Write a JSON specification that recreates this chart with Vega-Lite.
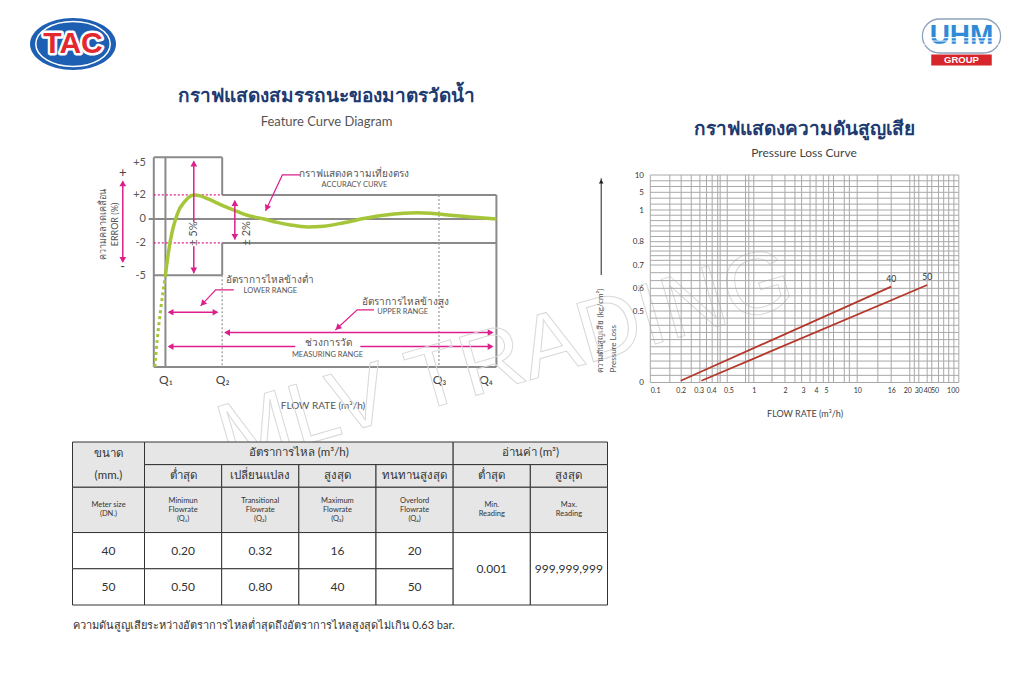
{
  "$schema": "https://vega.github.io/schema/vega-lite/v6.json",
  "background": "white",
  "padding": {"left": 29.5, "top": 0, "right": 4, "bottom": 4},
  "config": {
    "view": {"stroke": null},
    "font": "Lato",
    "axis": {"labelFont": "Lato", "titleFont": "Lato"},
    "title": {"font": "Lato", "subtitleFont": "Lato"}
  },
  "columns": 2,
  "align": "each",
  "bounds": "flush",
  "spacing": {"row": 69, "column": 41},
  "datasets": {
    "frame": [
      {"x": 0, "y": 5.55, "x2": 20, "y2": 5.55},
      {"x": 0, "y": 5.55, "x2": 0, "y2": -16},
      {"x": 20, "y": 5.55, "x2": 20, "y2": 2},
      {"x": 20, "y": 2, "x2": 100.2, "y2": 2},
      {"x": 100.2, "y": 2, "x2": 100.2, "y2": -16},
      {"x": 0, "y": -16, "x2": 100.2, "y2": -16},
      {"x": 0, "y": -5, "x2": 20, "y2": -5},
      {"x": 20, "y": -5, "x2": 20, "y2": -2},
      {"x": 20, "y": -2, "x2": 100.2, "y2": -2},
      {"x": -1.5, "y": 0, "x2": 100.2, "y2": 0},
      {"x": 3.4, "y": 5.55, "x2": 3.4, "y2": -16}
    ],
    "guides": [
      {"x": 20, "y": -5, "x2": 20, "y2": -16},
      {"x": 83.4, "y": 2, "x2": 83.4, "y2": -16}
    ],
    "limits": [
      {"x": 0, "y": 2, "x2": 20, "y2": 2},
      {"x": 0, "y": -2, "x2": 20, "y2": -2}
    ],
    "accuracy": [
      {"x": 3.4, "y": -5.0}, {"x": 4.4, "y": -2.6}, {"x": 5.4, "y": -1.0}, {"x": 6.4, "y": 0.0},
      {"x": 7.5, "y": 0.8}, {"x": 8.8, "y": 1.35}, {"x": 10.2, "y": 1.8}, {"x": 11.8, "y": 2.0},
      {"x": 13.6, "y": 1.92}, {"x": 15.5, "y": 1.7}, {"x": 17.5, "y": 1.45}, {"x": 20.5, "y": 1.05},
      {"x": 23.4, "y": 0.72}, {"x": 27.3, "y": 0.3}, {"x": 32.2, "y": 0.0}, {"x": 36.1, "y": -0.27},
      {"x": 40.0, "y": -0.48}, {"x": 44.9, "y": -0.64}, {"x": 49.7, "y": -0.58}, {"x": 55.6, "y": -0.3},
      {"x": 61.4, "y": 0.03}, {"x": 67.3, "y": 0.3}, {"x": 73.1, "y": 0.46}, {"x": 77.0, "y": 0.5},
      {"x": 80.9, "y": 0.46}, {"x": 86.8, "y": 0.3}, {"x": 93.6, "y": 0.13}, {"x": 100.2, "y": 0.0}
    ],
    "extension": [
      {"x": 0.3, "y": -16}, {"x": 1.0, "y": -12.3}, {"x": 2.0, "y": -8.7}, {"x": 3.4, "y": -5.0}
    ],
    "shafts": [
      {"x": 11.7, "y": 5.1, "x2": 11.7, "y2": -0.25},
      {"x": 11.7, "y": -2.3, "x2": 11.7, "y2": -4.8},
      {"x": 23.7, "y": 1.5, "x2": 23.7, "y2": -1.7},
      {"x": -9.07, "y": 3.2, "x2": -9.07, "y2": -3.7},
      {"x": 4.5, "y": -8.97, "x2": 18.5, "y2": -8.97},
      {"x": 21, "y": -11.41, "x2": 99, "y2": -11.41},
      {"x": 4.5, "y": -13.2, "x2": 41.4, "y2": -13.2},
      {"x": 60.4, "y": -13.2, "x2": 99, "y2": -13.2}
    ],
    "heads": [
      {"x": 11.7, "y": 4.93, "heading": 0}, {"x": 11.7, "y": -4.54, "heading": 180},
      {"x": 23.7, "y": 1.31, "heading": 0}, {"x": 23.7, "y": -1.48, "heading": 180},
      {"x": -9.07, "y": 3.03, "heading": 0}, {"x": -9.07, "y": -3.52, "heading": 180},
      {"x": 4.9, "y": -8.97, "heading": 270}, {"x": 18.05, "y": -8.97, "heading": 90},
      {"x": 21.44, "y": -11.41, "heading": 270}, {"x": 98.5, "y": -11.41, "heading": 90},
      {"x": 4.9, "y": -13.2, "heading": 270}, {"x": 98.5, "y": -13.2, "heading": 90},
      {"x": 14.3, "y": -8.0, "heading": 223}, {"x": 53.8, "y": -10.8, "heading": 227},
      {"x": 33.05, "y": 0.89, "heading": 205}
    ],
    "pointers": [
      {"id": "lo", "seq": 0, "x": 23.4, "y": -6.51}, {"id": "lo", "seq": 1, "x": 18.1, "y": -6.51}, {"id": "lo", "seq": 2, "x": 13.7, "y": -8.25},
      {"id": "up", "seq": 0, "x": 64.4, "y": -8.7}, {"id": "up", "seq": 1, "x": 59.5, "y": -8.7}, {"id": "up", "seq": 2, "x": 53.1, "y": -11.08},
      {"id": "ac", "seq": 0, "x": 42.9, "y": 3.82}, {"id": "ac", "seq": 1, "x": 37.6, "y": 3.82}, {"id": "ac", "seq": 2, "x": 32.7, "y": 0.67}
    ],
    "labels": [
      {"x": 58.5, "y": 3.91, "k": "th", "text": "กราฟแสดงความเที่ยงตรง"},
      {"x": 58.7, "y": 2.89, "k": "en", "text": "ACCURACY CURVE"},
      {"x": 34.1, "y": -5.48, "k": "th", "text": "อัตราการไหลข้างต่ำ"},
      {"x": 34.1, "y": -6.59, "k": "en", "text": "LOWER RANGE"},
      {"x": 73.6, "y": -7.77, "k": "th", "text": "อัตราการไหลข้างสูง"},
      {"x": 72.8, "y": -8.9, "k": "en", "text": "UPPER RANGE"},
      {"x": 51.1, "y": -12.77, "k": "th", "text": "ช่วงการวัด"},
      {"x": 50.8, "y": -14.3, "k": "en", "text": "MEASURING RANGE"}
    ],
    "signs": [
      {"x": -9.07, "y": 3.98, "text": "+"},
      {"x": -9.07, "y": -4.17, "text": "-"}
    ],
    "pct": [
      {"x": 11.7, "y": -1.2, "text": "± 5%"},
      {"x": 27.3, "y": -1.17, "text": "± 2%"}
    ],
    "watermark": [{"x": 102.9, "y": -15.0, "text": "MLV TRADING"}],
    "vgrid": [
      {"flow": 0.1}, {"flow": 0.156}, {"flow": 0.202}, {"flow": 0.254}, {"flow": 0.309}, {"flow": 0.359},
      {"flow": 0.405}, {"flow": 0.435}, {"flow": 0.449}, {"flow": 0.492}, {"flow": 0.797}, {"flow": 0.872},
      {"flow": 1}, {"flow": 1.5}, {"flow": 2}, {"flow": 2.5}, {"flow": 2.9}, {"flow": 3.5},
      {"flow": 4}, {"flow": 4.7}, {"flow": 5.3}, {"flow": 5.9}, {"flow": 7.5}, {"flow": 8.4},
      {"flow": 10}, {"flow": 13.3}, {"flow": 16}, {"flow": 22}, {"flow": 26}, {"flow": 30.6},
      {"flow": 40}, {"flow": 46}, {"flow": 56}, {"flow": 65}, {"flow": 75}, {"flow": 87}, {"flow": 100}
    ],
    "hgrid": [
      {"loss": 10}, {"loss": 8.33}, {"loss": 6.67}, {"loss": 5}, {"loss": 3.67}, {"loss": 2.33},
      {"loss": 1}, {"loss": 0.967}, {"loss": 0.933}, {"loss": 0.9}, {"loss": 0.867}, {"loss": 0.833},
      {"loss": 0.8}, {"loss": 0.78}, {"loss": 0.76}, {"loss": 0.74}, {"loss": 0.72}, {"loss": 0.7},
      {"loss": 0.667}, {"loss": 0.633}, {"loss": 0.6}, {"loss": 0.567}, {"loss": 0.533}, {"loss": 0.5},
      {"loss": 0.45}, {"loss": 0.4}, {"loss": 0.35}, {"loss": 0.3}, {"loss": 0.25}, {"loss": 0.2},
      {"loss": 0.15}, {"loss": 0.1}, {"loss": 0.05}, {"loss": 0}
    ],
    "loss": [
      {"dn": "40", "flow": 0.2, "loss": 0.012},
      {"dn": "40", "flow": 16, "loss": 0.607},
      {"dn": "50", "flow": 0.32, "loss": 0.012},
      {"dn": "50", "flow": 40, "loss": 0.614}
    ],
    "lossArrow": [{"flow": 0.0327, "loss": 0.657, "loss2": 9.05, "head": 8.1}],
    "cells": [
      {"c0": 0, "c1": 1, "r0": 0, "r1": 2, "k": "head", "t": "ขนาด\n(mm.)"},
      {"c0": 1, "c1": 5, "r0": 0, "r1": 1, "k": "head", "t": "อัตราการไหล  (m³/h)"},
      {"c0": 5, "c1": 7, "r0": 0, "r1": 1, "k": "head", "t": "อ่านค่า  (m³)"},
      {"c0": 1, "c1": 2, "r0": 1, "r1": 2, "k": "head", "t": "ต่ำสุด"},
      {"c0": 2, "c1": 3, "r0": 1, "r1": 2, "k": "head", "t": "เปลี่ยนแปลง"},
      {"c0": 3, "c1": 4, "r0": 1, "r1": 2, "k": "head", "t": "สูงสุด"},
      {"c0": 4, "c1": 5, "r0": 1, "r1": 2, "k": "head", "t": "ทนทานสูงสุด"},
      {"c0": 5, "c1": 6, "r0": 1, "r1": 2, "k": "head", "t": "ต่ำสุด"},
      {"c0": 6, "c1": 7, "r0": 1, "r1": 2, "k": "head", "t": "สูงสุด"},
      {"c0": 0, "c1": 1, "r0": 2, "r1": 4, "k": "sub", "t": "Meter size\n(DN.)"},
      {"c0": 1, "c1": 2, "r0": 2, "r1": 4, "k": "sub", "t": "Minimun\nFlowrate\n(Q₁)"},
      {"c0": 2, "c1": 3, "r0": 2, "r1": 4, "k": "sub", "t": "Transitional\nFlowrate\n(Q₂)"},
      {"c0": 3, "c1": 4, "r0": 2, "r1": 4, "k": "sub", "t": "Maximum\nFlowrate\n(Q₃)"},
      {"c0": 4, "c1": 5, "r0": 2, "r1": 4, "k": "sub", "t": "Overlord\nFlowrate\n(Q₄)"},
      {"c0": 5, "c1": 6, "r0": 2, "r1": 4, "k": "sub", "t": "Min.\nReading"},
      {"c0": 6, "c1": 7, "r0": 2, "r1": 4, "k": "sub", "t": "Max.\nReading"},
      {"c0": 0, "c1": 1, "r0": 4, "r1": 5.6, "k": "body", "t": "40"},
      {"c0": 1, "c1": 2, "r0": 4, "r1": 5.6, "k": "body", "t": "0.20"},
      {"c0": 2, "c1": 3, "r0": 4, "r1": 5.6, "k": "body", "t": "0.32"},
      {"c0": 3, "c1": 4, "r0": 4, "r1": 5.6, "k": "body", "t": "16"},
      {"c0": 4, "c1": 5, "r0": 4, "r1": 5.6, "k": "body", "t": "20"},
      {"c0": 0, "c1": 1, "r0": 5.6, "r1": 7.2, "k": "body", "t": "50"},
      {"c0": 1, "c1": 2, "r0": 5.6, "r1": 7.2, "k": "body", "t": "0.50"},
      {"c0": 2, "c1": 3, "r0": 5.6, "r1": 7.2, "k": "body", "t": "0.80"},
      {"c0": 3, "c1": 4, "r0": 5.6, "r1": 7.2, "k": "body", "t": "40"},
      {"c0": 4, "c1": 5, "r0": 5.6, "r1": 7.2, "k": "body", "t": "50"},
      {"c0": 5, "c1": 6, "r0": 4, "r1": 7.2, "k": "body", "t": "0.001"},
      {"c0": 6, "c1": 7, "r0": 4, "r1": 7.2, "k": "body", "t": "999,999,999"}
    ]
  },
  "concat": [
    {
      "width": 1,
      "height": 88,
      "data": {"values": [{"logo": "TAC"}]},
      "layer": [
        {"mark": {"type": "point", "shape": "M-1.654,0A1.654,1,0,1,1,1.654,0A1.654,1,0,1,1,-1.654,0Z", "size": 2704, "filled": true, "color": "#1d5fb3", "opacity": 1}},
        {"mark": {"type": "point", "shape": "M-1.654,0A1.654,1,0,1,1,1.654,0A1.654,1,0,1,1,-1.654,0Z", "size": 2025, "filled": false, "color": "white", "strokeWidth": 1.5, "opacity": 1}},
        {"mark": {"type": "text", "font": "Liberation Sans", "fontSize": 30, "fontWeight": "bold", "color": "white", "stroke": "white", "strokeWidth": 5, "strokeJoin": "round"}, "encoding": {"text": {"field": "logo"}}},
        {"mark": {"type": "text", "font": "Liberation Sans", "fontSize": 30, "fontWeight": "bold", "color": "#e4282f"}, "encoding": {"text": {"field": "logo"}}}
      ]
    },
    {
      "width": 313,
      "height": 88,
      "data": {"values": [{"logo": "UHM", "tag": "GROUP"}]},
      "encoding": {"x": {"field": "logo", "type": "nominal", "scale": {"type": "point", "align": 1}, "axis": null}},
      "layer": [
        {"mark": {"type": "point", "shape": "M-1.3,-1H1.3A1,1,0,0,1,1.3,1H-1.3A1,1,0,0,1,-1.3,-1Z", "size": 1156, "filled": true, "fill": "white", "stroke": "#8ea2bb", "strokeWidth": 1.3, "yOffset": -8, "opacity": 1}},
        {"mark": {"type": "text", "font": "Liberation Sans", "fontSize": 28, "fontWeight": "bold", "color": "#2f8bd8", "dy": -8}, "encoding": {"text": {"field": "logo"}}},
        {"mark": {"type": "point", "shape": "M-3.4,0.15H3.4M-3.4,0.45H3.4M-3.4,0.75H3.4", "size": 484, "filled": false, "color": "white", "strokeWidth": 1.1, "yOffset": -8, "opacity": 0.9}},
        {"mark": {"type": "point", "shape": "M-5.5,-1H5.5V1H-5.5Z", "size": 121, "filled": true, "color": "#d6262b", "yOffset": 16, "opacity": 1}},
        {"mark": {"type": "text", "font": "Liberation Sans", "fontSize": 9.5, "fontWeight": "bold", "color": "white", "dy": 16}, "encoding": {"text": {"field": "tag"}}}
      ]
    },
    {
      "width": 424,
      "height": 215.5,
      "title": {"text": "กราฟแสดงสมรรถนะของมาตรวัดน้ำ", "subtitle": "Feature Curve Diagram", "frame": "group", "anchor": "middle", "dx": 42, "offset": 27, "fontSize": 19, "fontWeight": "bold", "color": "#1c3a70", "subtitleFontSize": 13, "subtitleColor": "#555555", "subtitlePadding": 10},
      "encoding": {
        "x": {
          "field": "x", "type": "quantitative",
          "scale": {"domain": [-23.78, 100.23], "nice": false, "zero": false},
          "axis": {"values": [3.4, 20, 83.4, 97], "labelExpr": "datum.value < 10 ? 'Q₁' : datum.value < 50 ? 'Q₂' : datum.value < 90 ? 'Q₃' : 'Q₄'", "domain": false, "ticks": false, "grid": false, "labelPadding": 2, "labelFontSize": 12, "labelColor": "#444444", "labelOverlap": false, "labelFlush": false, "title": "FLOW RATE (m³/h)", "titleX": 250, "titleY": 32.5, "titleAlign": "center", "titleBaseline": "middle", "titleFontSize": 10, "titleFontWeight": "normal", "titleColor": "#555555"}
        },
        "y": {
          "field": "y", "type": "quantitative",
          "scale": {"type": "symlog", "constant": 20, "domain": [-16.8, 5.58], "nice": false, "zero": false},
          "axis": {"values": [5, 2, 0, -2, -5], "labelExpr": "datum.value > 0 ? '+' + datum.value : '' + datum.value", "offset": -78, "domain": false, "ticks": false, "grid": false, "labelPadding": 5, "labelFontSize": 11, "labelColor": "#555555", "labelOverlap": false, "title": ["ความคลาดเคลื่อน", "ERROR (%)"], "titleAngle": -90, "titleX": -52, "titleY": 67, "titleAlign": "center", "titleBaseline": "top", "titleFontSize": 9, "titleFontWeight": "normal", "titleColor": "#555555", "titleLineHeight": 12}
        }
      },
      "layer": [
        {"data": {"name": "frame"}, "mark": {"type": "rule", "color": "#8a8a8a", "strokeWidth": 2}, "encoding": {"x2": {"field": "x2"}, "y2": {"field": "y2"}}},
        {"data": {"name": "guides"}, "mark": {"type": "rule", "color": "#999999", "strokeWidth": 1.2, "strokeDash": [2, 2]}, "encoding": {"x2": {"field": "x2"}, "y2": {"field": "y2"}}},
        {"data": {"name": "limits"}, "mark": {"type": "rule", "color": "#dd1f8b", "strokeWidth": 1.2, "strokeDash": [2, 2]}, "encoding": {"x2": {"field": "x2"}, "y2": {"field": "y2"}}},
        {"data": {"name": "extension"}, "mark": {"type": "line", "color": "#a6c63a", "strokeWidth": 3, "strokeDash": [3, 3], "interpolate": "monotone"}, "encoding": {}},
        {"data": {"name": "accuracy"}, "mark": {"type": "line", "color": "#a6c63a", "strokeWidth": 3.5, "interpolate": "monotone"}, "encoding": {}},
        {"data": {"name": "shafts"}, "mark": {"type": "rule", "color": "#dd1f8b", "strokeWidth": 1.5}, "encoding": {"x2": {"field": "x2"}, "y2": {"field": "y2"}}},
        {"data": {"name": "pointers"}, "mark": {"type": "line", "color": "#dd1f8b", "strokeWidth": 1.2}, "encoding": {"detail": {"field": "id"}, "order": {"field": "seq"}}},
        {"data": {"name": "heads"}, "mark": {"type": "point", "shape": "triangle-up", "filled": true, "color": "#dd1f8b", "size": 45, "opacity": 1}, "encoding": {"angle": {"field": "heading", "type": "quantitative", "scale": {"domain": [0, 360], "range": [0, 360]}}}},
        {"data": {"name": "labels"}, "transform": [{"filter": "datum.k == 'th'"}], "mark": {"type": "text", "fontSize": 10, "color": "#555555"}, "encoding": {"text": {"field": "text"}}},
        {"data": {"name": "labels"}, "transform": [{"filter": "datum.k == 'en'"}], "mark": {"type": "text", "fontSize": 7.5, "color": "#555555"}, "encoding": {"text": {"field": "text"}}},
        {"data": {"name": "signs"}, "mark": {"type": "text", "fontSize": 13, "color": "#444444"}, "encoding": {"text": {"field": "text"}}},
        {"data": {"name": "pct"}, "mark": {"type": "text", "fontSize": 11, "angle": 270, "color": "#555555"}, "encoding": {"text": {"field": "text"}}},
        {"data": {"name": "watermark"}, "mark": {"type": "text", "font": "Liberation Sans", "fontSize": 88, "angle": 344, "fillOpacity": 0, "stroke": "#d9d9d9", "strokeWidth": 1}, "encoding": {"text": {"field": "text"}}}
      ]
    },
    {
      "width": 311,
      "height": 215.5,
      "title": {"text": "กราฟแสดงความดันสูญเสีย", "subtitle": "Pressure Loss Curve", "frame": "group", "anchor": "middle", "offset": -2, "fontSize": 19, "fontWeight": "bold", "color": "#1c3a70", "subtitleFontSize": 12, "subtitleColor": "#444444", "subtitlePadding": 9},
      "encoding": {
        "x": {
          "field": "flow", "type": "quantitative",
          "scale": {"type": "log", "domain": [0.1, 0.4, 0.5, 1, 10, 16, 20, 30, 40, 50, 100], "range": [1.8, 62.7, 80, 105.3, 208.7, 242.7, 258.7, 269.7, 278.7, 286, 310.3], "nice": false, "zero": false},
          "axis": {"values": [0.1, 0.2, 0.3, 0.4, 0.5, 1, 2, 3, 4, 5, 10, 16, 20, 30, 40, 50, 100], "format": "~r", "offset": 10.5, "domain": false, "ticks": false, "grid": false, "labelFontSize": 7, "labelColor": "#333333", "labelPadding": 3, "labelOverlap": false, "title": "FLOW RATE (m³/h)", "titleFontSize": 9, "titleFontWeight": "normal", "titleColor": "#444444", "titlePadding": 16}
        },
        "y": {
          "field": "loss", "type": "quantitative",
          "scale": {"domain": [0, 0.5, 0.6, 0.7, 0.8, 1, 5, 10], "range": [225.5, 154, 131.3, 108, 84.7, 53, 35.3, 18], "nice": false, "zero": false},
          "axis": {"values": [0, 0.5, 0.6, 0.7, 0.8, 1, 5, 10], "format": "~r", "domain": false, "ticks": false, "grid": false, "labelFontSize": 8, "labelColor": "#333333", "labelPadding": 5, "labelOverlap": false, "title": ["ความดันสูญเสีย (kg/cm²)", "Pressure Loss"], "titleAngle": -90, "titleAlign": "left", "titleBaseline": "top", "titleX": -52.3, "titleY": 215, "titleFontSize": 8, "titleFontWeight": "normal", "titleColor": "#555555", "titleLineHeight": 13.6}
        }
      },
      "layer": [
        {"data": {"name": "vgrid"}, "transform": [{"calculate": "0", "as": "lo"}, {"calculate": "10", "as": "hi"}], "mark": {"type": "rule", "color": "#a8a8a8", "strokeWidth": 1}, "encoding": {"y": {"field": "lo", "type": "quantitative"}, "y2": {"field": "hi"}}},
        {"data": {"name": "hgrid"}, "transform": [{"calculate": "0.1", "as": "lo"}, {"calculate": "100", "as": "hi"}], "mark": {"type": "rule", "color": "#a8a8a8", "strokeWidth": 1}, "encoding": {"x": {"field": "lo", "type": "quantitative"}, "x2": {"field": "hi"}}},
        {"data": {"name": "loss"}, "mark": {"type": "line", "color": "#b5372a", "strokeWidth": 1.8}, "encoding": {"detail": {"field": "dn"}}},
        {"data": {"name": "loss"}, "transform": [{"filter": "datum.loss > 0.3"}], "mark": {"type": "text", "dy": -8, "fontSize": 8.5, "color": "#333333"}, "encoding": {"text": {"field": "dn"}}},
        {"data": {"name": "lossArrow"}, "mark": {"type": "rule", "color": "#222222", "strokeWidth": 1}, "encoding": {"y2": {"field": "loss2"}}},
        {"data": {"name": "lossArrow"}, "mark": {"type": "point", "shape": "triangle-up", "filled": true, "color": "#222222", "size": 22, "opacity": 1}, "encoding": {"y": {"field": "head", "type": "quantitative"}}}
      ]
    },
    {
      "width": 535,
      "height": 163,
      "title": {"text": "ความดันสูญเสียระหว่างอัตราการไหลต่ำสุดถึงอัตราการไหลสูงสุดไม่เกิน 0.63 bar.", "orient": "bottom", "anchor": "start", "frame": "group", "offset": 14, "fontSize": 11, "fontWeight": "normal", "color": "#333333"},
      "data": {"name": "cells"},
      "transform": [
        {"calculate": "(datum.c0 + datum.c1) / 2", "as": "cx"},
        {"calculate": "(datum.r0 + datum.r1) / 2", "as": "cy"},
        {"calculate": "length(split(datum.t, '\\n'))", "as": "nl"}
      ],
      "encoding": {
        "x": {"field": "cx", "type": "quantitative", "scale": {"domain": [0, 1, 7], "range": [0, 72, 535], "nice": false, "zero": false}, "axis": null},
        "y": {"field": "cy", "type": "quantitative", "scale": {"domain": [0, 7.2], "reverse": true, "nice": false, "zero": false}, "axis": null},
        "text": {"field": "t"}
      },
      "layer": [
        {
          "mark": {"type": "rect", "stroke": "#333333", "strokeWidth": 1},
          "encoding": {
            "x": {"field": "c0", "type": "quantitative", "scale": {"domain": [0, 1, 7], "range": [0, 72, 535], "nice": false, "zero": false}, "axis": null},
            "x2": {"field": "c1"},
            "y": {"field": "r0", "type": "quantitative", "scale": {"domain": [0, 7.2], "reverse": true, "nice": false, "zero": false}, "axis": null},
            "y2": {"field": "r1"},
            "text": null,
            "fill": {"field": "k", "type": "nominal", "scale": {"domain": ["head", "sub", "body"], "range": ["#e6e6e6", "#e6e6e6", "#ffffff"]}, "legend": null}
          }
        },
        {"transform": [{"filter": "datum.k == 'head' && datum.nl == 1"}], "mark": {"type": "text", "fontSize": 11.5, "color": "#333333"}},
        {"transform": [{"filter": "datum.k == 'head' && datum.nl == 2"}], "mark": {"type": "text", "fontSize": 11.5, "color": "#333333", "lineBreak": "\n", "lineHeight": 22, "dy": -11}},
        {"transform": [{"filter": "datum.k == 'sub' && datum.nl == 2"}], "mark": {"type": "text", "fontSize": 7.5, "color": "#333333", "lineBreak": "\n", "lineHeight": 9, "dy": -4.5}},
        {"transform": [{"filter": "datum.k == 'sub' && datum.nl == 3"}], "mark": {"type": "text", "fontSize": 7.5, "color": "#333333", "lineBreak": "\n", "lineHeight": 9, "dy": -9}},
        {"transform": [{"filter": "datum.k == 'body'"}], "mark": {"type": "text", "fontSize": 12, "color": "#333333"}}
      ]
    }
  ]
}
